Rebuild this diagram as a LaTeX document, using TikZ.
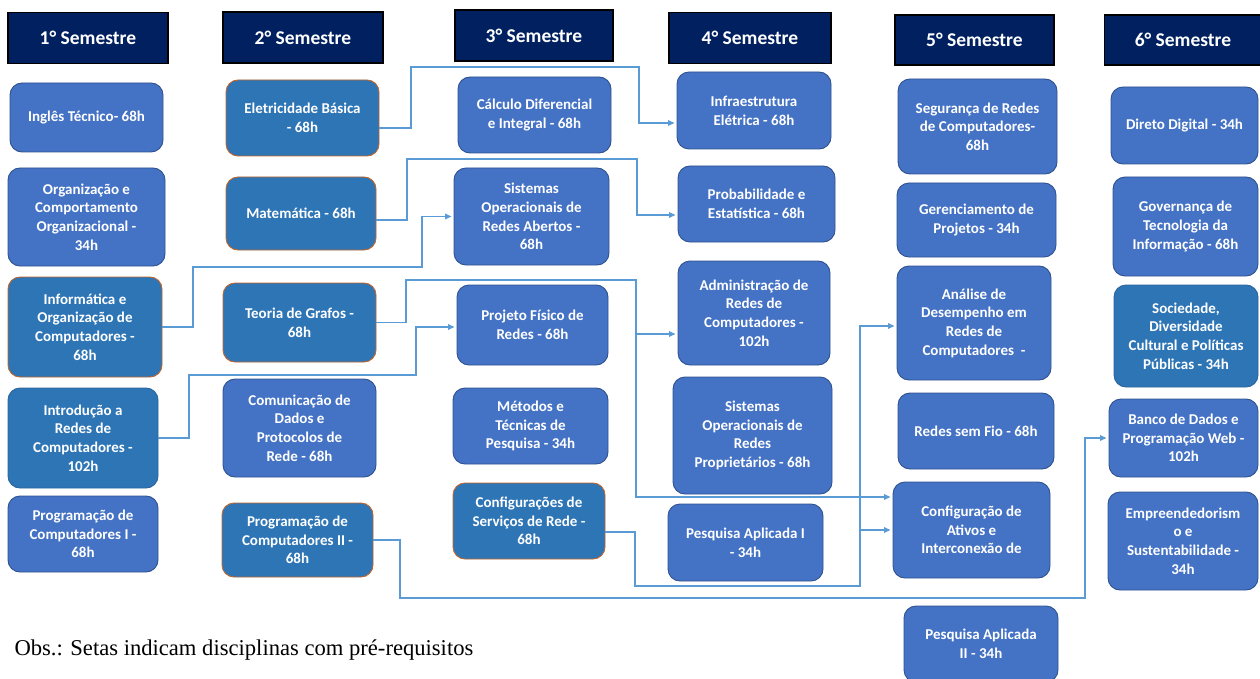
\documentclass[tikz,border=0pt]{standalone}
\usepackage{fontspec}
\setmainfont{Carlito}
\newfontfamily\obsfont{Liberation Serif}
\usetikzlibrary{arrows.meta, positioning, calc}
\definecolor{cabeca}{HTML}{002060}
\definecolor{caixa}{HTML}{4472C4}
\definecolor{caixaborda}{HTML}{2F528F}
\definecolor{escura}{HTML}{2E75B6}
\definecolor{escuraborda}{HTML}{2A659C}
\definecolor{laranja}{HTML}{C0652A}
\definecolor{setacor}{HTML}{5B9BD5}

\begin{document}
\begin{tikzpicture}[
		x=1pt, y=-1pt,
		sem/.style={
				draw=black, line width=1.2pt, fill=cabeca, text=white,
				font=\fontsize{19.5}{22}\selectfont\bfseries,
				minimum width=#1, minimum height=51pt, inner sep=0pt
			},
		disc/.style={
				draw=caixaborda, line width=0.9pt, fill=caixa, text=white,
				rounded corners=12pt, align=center, inner sep=0pt,
				font=\fontsize{15}{18.7}\selectfont\bfseries
			},
		disc2/.style={disc, fill=escura, draw=laranja},
		disc3/.style={disc, fill=escura, draw=escuraborda},
		seta/.style={draw=setacor, line width=1.4pt, -{Triangle[length=6.5pt,width=5.5pt]}, shorten >=2pt}
	]
	\useasboundingbox (0,0) rectangle (1260,679);

	\node[sem=160pt] (h1) at (88,38) {1° Semestre};
	\node[sem=160pt] (h2) at (303,37.5) {2° Semestre};
	\node[sem=158pt] (h3) at (534,35.5) {3° Semestre};
	\node[sem=162pt] (h4) at (750,38) {4° Semestre};
	\node[sem=159pt, minimum height=50pt] (h5) at (974.5,40) {5° Semestre};
	\node[sem=157pt, minimum height=50pt] (h6) at (1183,40) {6° Semestre};

	\node[disc, minimum width=153pt, minimum height=69pt] (ing) at (86.5,117.5) {Inglês Técnico- 68h};
	\node[disc, minimum width=157pt, minimum height=98pt] (org) at (86.5,217) {Organização e\\Comportamento\\Organizacional -\\34h};
	\node[disc2, minimum width=154pt, minimum height=100pt] (inf) at (85,327) {Informática e\\Organização de\\Computadores -\\68h};
	\node[disc3, minimum width=150pt, minimum height=100pt] (int) at (83,438) {Introdução a\\Redes de\\Computadores -\\102h};
	\node[disc, minimum width=150pt, minimum height=76pt] (prog1) at (83,534) {Programação de\\Computadores I -\\68h};

	\node[disc2, minimum width=153pt, minimum height=76pt] (ele) at (302.5,118) {Eletricidade Básica\\- 68h};
	\node[disc2, minimum width=150pt, minimum height=73pt] (mat) at (301,213.5) {Matemática - 68h};
	\node[disc2, minimum width=153pt, minimum height=79pt] (teo) at (299.5,322.5) {Teoria de Grafos -\\68h};
	\node[disc, minimum width=153pt, minimum height=98pt] (com) at (299.5,428) {Comunicação de\\Dados e\\Protocolos de\\Rede - 68h};
	\node[disc2, minimum width=151pt, minimum height=74pt] (prog2) at (297.5,540) {Programação de\\Computadores II -\\68h};

	\node[disc, minimum width=153pt, minimum height=76pt] (calc) at (534.5,115) {Cálculo Diferencial\\e Integral - 68h};
	\node[disc, minimum width=155pt, minimum height=97pt] (soa) at (531.5,216.5) {Sistemas\\Operacionais de\\Redes Abertos -\\68h};
	\node[disc, minimum width=151pt, minimum height=80pt] (proj) at (532.5,325) {Projeto Físico de\\Redes - 68h};
	\node[disc, minimum width=155pt, minimum height=76pt] (met) at (530.5,426) {Métodos e\\Técnicas de\\Pesquisa - 34h};
	\node[disc2, minimum width=152pt, minimum height=76pt] (conf) at (529,521) {Configurações de\\Serviços de Rede -\\68h};

	\node[disc, minimum width=154pt, minimum height=77pt] (infra) at (754,110.5) {Infraestrutura\\Elétrica - 68h};
	\node[disc, minimum width=157pt, minimum height=76pt] (prob) at (756.5,204) {Probabilidade e\\Estatística - 68h};
	\node[disc, minimum width=152pt, minimum height=104pt] (adm) at (754,313) {Administração de\\Redes de\\Computadores -\\102h};
	\node[disc, minimum width=159pt, minimum height=117pt] (sop) at (752.5,435.5) {Sistemas\\Operacionais de\\Redes\\Proprietários - 68h};
	\node[disc, minimum width=155pt, minimum height=77pt] (pesq1) at (745.5,542.5) {Pesquisa Aplicada I\\- 34h};

	\node[disc, minimum width=159pt, minimum height=95pt] (seg) at (977.5,126.5) {Segurança de Redes\\de Computadores-\\68h};
	\node[disc, minimum width=159pt, minimum height=74pt] (ger) at (976.5,220) {Gerenciamento de\\Projetos - 34h};
	\node[disc, minimum width=154pt, minimum height=114pt] (ana) at (974,323) {Análise de\\Desempenho em\\Redes de\\Computadores~~-};
	\node[disc, minimum width=156pt, minimum height=76pt] (fio) at (976,431) {Redes sem Fio - 68h};
	\node[disc, minimum width=157pt, minimum height=96pt] (ativ) at (971.5,530) {Configuração de\\Ativos e\\Interconexão de};
	\node[disc, minimum width=154pt, minimum height=76pt] (pesq2) at (981,644) {Pesquisa Aplicada\\II - 34h};

	\node[disc, minimum width=147pt, minimum height=77pt] (dir) at (1184.5,125.5) {Direto Digital - 34h};
	\node[disc, minimum width=145pt, minimum height=99pt] (gov) at (1185.5,226.5) {Governança de\\Tecnologia da\\Informação - 68h};
	\node[disc3, minimum width=144pt, minimum height=102pt] (soc) at (1186,336) {Sociedade,\\Diversidade\\Cultural e Políticas\\Públicas - 34h};
	\node[disc, minimum width=149pt, minimum height=78pt] (bd) at (1183.5,438) {Banco de Dados e\\Programação Web -\\102h};
	\node[disc, minimum width=150pt, minimum height=98pt] (emp) at (1183,541) {Empreendedorism\\o e\\Sustentabilidade -\\34h};

	\draw[seta] ([yshift=-10pt]ele.east) -| (411,67) -- (639,67) |- ([yshift=-12.5pt]infra.west);
	\draw[seta] ([yshift=-6.5pt]mat.east) -| (407,159) -- (637,159) |- ([yshift=-11pt]prob.west);
	\draw[seta] (inf.east) -| (193,267) -- (422,267) |- (soa.west);
	\draw[seta] (teo.east) -| (406,280) -- (636,280) |- ([yshift=-21pt]adm.west);
	\draw[seta] (teo.east) -| (406,280) -- (636,280) |- ([yshift=33pt]ativ.west);
	\draw[seta] (int.east) -| (189,375) -- (416,375) |- ([yshift=-2pt]proj.west);
	\draw[seta] ([yshift=-11pt]conf.east) -| (635,586) -- (860,586) |- ([yshift=-3pt]ana.west);
	\draw[seta] ([yshift=-11pt]conf.east) -| (635,586) -- (860,586) |- (ativ.west);
	\draw[seta] (prog2.east) -| (400,598) -- (1085,598) |- (bd.west);

	\node[anchor=base west, font=\obsfont\fontsize{22.6}{26}\selectfont] (obs) at (11,655) {Obs.: Setas indicam disciplinas com pré-requisitos};
\end{tikzpicture}
\end{document}
